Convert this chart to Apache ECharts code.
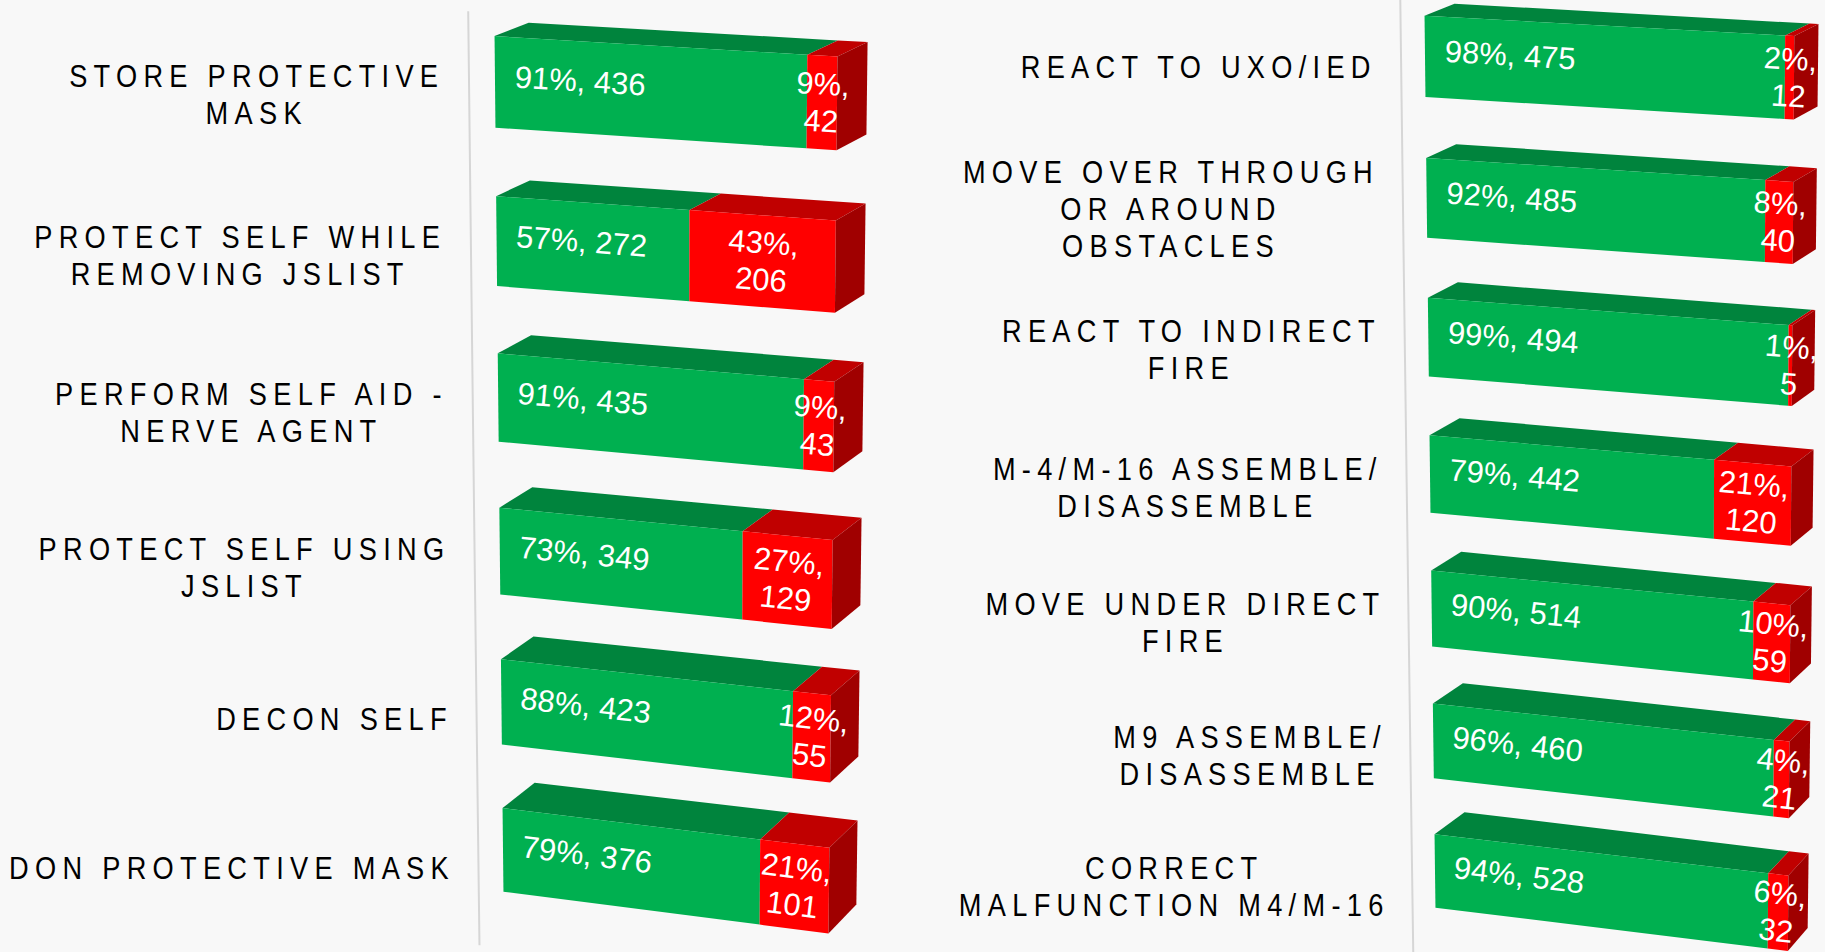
<!DOCTYPE html>
<html>
<head>
<meta charset="utf-8">
<title>Task results</title>
<script src="https://cdn.jsdelivr.net/npm/echarts@6/dist/echarts.min.js"></script>
<style>
  html, body { margin: 0; padding: 0; background: #f8f8f8; }
  #chart { width: 1825px; height: 952px; }
  /* task names are the only 32px texts: give them the wide tracking of the original */
  #chart text[style*="32px"] { letter-spacing: 7.4px; }
</style>
</head>
<body>
<div id="chart"></div>
<script>
const leftTasks = [
  'STORE PROTECTIVE\nMASK',
  'PROTECT SELF WHILE\nREMOVING JSLIST',
  'PERFORM SELF AID -\nNERVE AGENT',
  'PROTECT SELF USING\nJSLIST',
  'DECON SELF',
  'DON PROTECTIVE MASK'
];
const leftPass = [436, 272, 435, 349, 423, 376];
const leftFail = [42, 206, 43, 129, 55, 101];

const rightTasks = [
  'REACT TO UXO/IED',
  'MOVE OVER THROUGH\nOR AROUND\nOBSTACLES',
  'REACT TO INDIRECT\nFIRE',
  'M-4/M-16 ASSEMBLE/\nDISASSEMBLE',
  'MOVE UNDER DIRECT\nFIRE',
  'M9 ASSEMBLE/\nDISASSEMBLE',
  'CORRECT\nMALFUNCTION M4/M-16'
];
const rightPass = [475, 485, 494, 442, 514, 460, 528];
const rightFail = [12, 40, 5, 120, 59, 21, 32];

const GREEN = '#00b050', GREEN_TOP = '#00843d', GREEN_SIDE = '#006d31';
const RED = '#ff0000', RED_TOP = '#c00000', RED_SIDE = '#a00000';
// no condensed face is installed, so the task names are squeezed horizontally
const CAT_FONT = '32px "Liberation Sans", Arial, sans-serif';
const CAT_SPACING = 7.4;
const CAT_SQUEEZE = 0.85;
const VAL_FONT = '31px Arial, "Liberation Sans", sans-serif';

// how each panel is tilted (the original is a 3D chart seen in perspective)
const leftView = {
  firstRow: 82, band: 153.6,
  bulge: 8.8, shift: 8, shrink: 0.047, slope0: 0.063, slopeK: 0.062,
  dx0: 34, dxS: 4, dxT: 2, dxST: 0, dy0: 14, dyT: 12, dyS: 0.08,
  catGap: 57, catDy0: 12.5, catDyT: 5.5, axisGap: 26, axisTop: -66, axisBottom: 104
};
const rightView = {
  firstRow: 56.5, band: 135.75,
  bulge: 10.3, shift: 10, shrink: 0.043, slope0: 0.058, slopeK: 0.062,
  dx0: 30, dxS: 6, dxT: 0, dxST: 4, dy0: 12.5, dyT: 10, dyS: 0,
  catGap: 54, catDy0: 10, catDyT: 5.5, axisGap: 24, axisTop: -80, axisBottom: 100
};

const measureCtx = document.createElement('canvas').getContext('2d');
measureCtx.font = CAT_FONT;
measureCtx.letterSpacing = CAT_SPACING + 'px';

function makeRenderer(view, tasks) {
  return function (params, api) {
    const i = api.value(0);
    const pass = api.value(1), fail = api.value(2);
    const total = pass + fail;
    const n = tasks.length;

    const o = api.coord([0, 0]);
    const g = { xL: o[0], W: api.coord([100, 0])[0] - o[0], c0: o[1], L: api.coord([0, n - 1])[1] - o[1] };
    const band = api.size([0, 1])[1];
    const hh = band * 0.57 / 2;
    const c = api.coord([0, i])[1];

    const tOf = y => (y - g.c0) / g.L;
    const slopeAt = t => view.slope0 + view.slopeK * t;
    function warp(x, y) {
      const t = tOf(y);
      const yv = y + 4 * view.bulge * t * (1 - t);
      const s = (x - g.xL) / g.W;
      const w = g.W * (1 - view.shrink * t);
      return [g.xL + view.shift * t + s * w, yv + slopeAt(t) * s * w];
    }
    function depth(x, y) {
      const s = (x - g.xL) / g.W, t = tOf(y);
      return [view.dx0 - view.dxS * s - view.dxT * t - view.dxST * s * t,
              -(view.dy0 + view.dyT * t) * (1 + view.dyS * s)];
    }
    const add = (p, d) => [p[0] + d[0], p[1] + d[1]];

    const x0 = api.coord([0, i])[0];
    const xm = api.coord([pass / total * 100, i])[0];
    const x1 = api.coord([100, i])[0];
    const top = c - hh, bot = c + hh;

    const children = [];
    const segs = [
      { a: x0, b: xm, front: GREEN, lid: GREEN_TOP, side: GREEN_SIDE },
      { a: xm, b: x1, front: RED, lid: RED_TOP, side: RED_SIDE }
    ];
    segs.forEach((sg, k) => {
      if (sg.b - sg.a <= 0) return;
      const ta = warp(sg.a, top), tb = warp(sg.b, top);
      const bb = warp(sg.b, bot), ba = warp(sg.a, bot);
      children.push({ type: 'polygon', shape: { points: [ta, tb, add(tb, depth(sg.b, top)), add(ta, depth(sg.a, top))] },
        style: { fill: sg.lid } });
      children.push({ type: 'polygon', shape: { points: [ta, tb, bb, ba] }, style: { fill: sg.front } });
      if (k === segs.length - 1) {
        children.push({ type: 'polygon',
          shape: { points: [tb, add(tb, depth(sg.b, top)), add(bb, depth(sg.b, bot)), bb] },
          style: { fill: sg.side } });
      }
    });

    const tc = tOf(c);
    const rot = -Math.atan(slopeAt(tc));
    const passPct = Math.round(pass / total * 100);
    const failPct = Math.round(fail / total * 100);

    const gp = warp(x0 + 20, c - 6);
    children.push({ type: 'text', x: gp[0], y: gp[1], rotation: rot,
      style: { text: passPct + '%, ' + pass, fill: '#fff', font: VAL_FONT, align: 'left', verticalAlign: 'middle' } });

    const rp = warp((xm + x1) / 2, c);
    children.push({ type: 'text', x: rp[0], y: rp[1], rotation: rot,
      style: { text: failPct + '%,\n' + fail, fill: '#fff', font: VAL_FONT, align: 'center',
               verticalAlign: 'middle', lineHeight: 37 } });

    // task name, lines centred on each other, block pushed against the axis
    const lines = tasks[i].split('\n');
    const widest = Math.max(...lines.map(l => measureCtx.measureText(l).width)) * CAT_SQUEEZE;
    const edge = warp(x0 - view.catGap, c)[0];
    const cy = warp(x0, c)[1] + view.catDy0 + view.catDyT * tc;
    children.push({ type: 'text', x: edge + CAT_SPACING * CAT_SQUEEZE - widest / 2, y: cy,
      scaleX: CAT_SQUEEZE,
      style: { text: tasks[i], fill: '#000', font: CAT_FONT, align: 'center',
               verticalAlign: 'middle', lineHeight: 37 } });

    if (i === 0) {
      const pts = [];
      const ya = g.c0 + view.axisTop, yb = g.c0 + g.L + view.axisBottom;
      for (let k = 0; k <= 24; k++) {
        pts.push(warp(g.xL - view.axisGap, ya + (yb - ya) * k / 24));
      }
      children.push({ type: 'polyline', shape: { points: pts },
        style: { stroke: '#d6d6d6', lineWidth: 2, fill: null } });
    }

    return { type: 'group', children: children };
  };
}

// rows sit at 0, 1, 2 ... on a value axis so the first row can be placed freely
function rowAxis(gridIndex, view) {
  const min = -view.firstRow / view.band;
  return { type: 'value', gridIndex: gridIndex, inverse: true, show: false,
           min: min, max: min + 952 / view.band };
}

const chart = echarts.init(document.getElementById('chart'), null, { renderer: 'svg' });

const option = {
  backgroundColor: '#f8f8f8',
  animation: false,
  grid: [
    { left: 495, width: 342, top: 0, height: 952 },
    { left: 1425, width: 369, top: 0, height: 952 }
  ],
  xAxis: [
    { type: 'value', gridIndex: 0, min: 0, max: 100, show: false },
    { type: 'value', gridIndex: 1, min: 0, max: 100, show: false }
  ],
  yAxis: [rowAxis(0, leftView), rowAxis(1, rightView)],
  series: [
    {
      type: 'custom',
      xAxisIndex: 0, yAxisIndex: 0,
      renderItem: makeRenderer(leftView, leftTasks),
      encode: { x: 1, y: 0 },
      data: leftTasks.map((t, i) => [i, leftPass[i], leftFail[i]])
    },
    {
      type: 'custom',
      xAxisIndex: 1, yAxisIndex: 1,
      renderItem: makeRenderer(rightView, rightTasks),
      encode: { x: 1, y: 0 },
      data: rightTasks.map((t, i) => [i, rightPass[i], rightFail[i]])
    }
  ]
};

chart.setOption(option);
</script>
</body>
</html>
